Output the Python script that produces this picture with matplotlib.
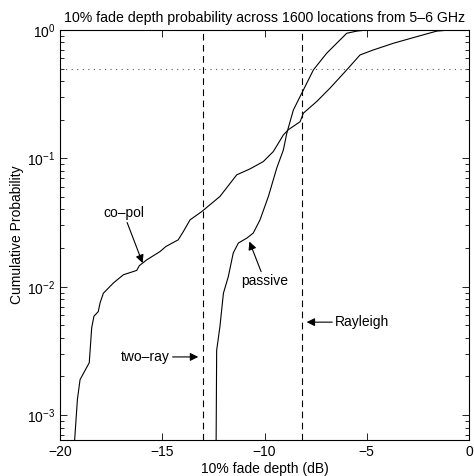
import matplotlib
matplotlib.use("Agg")
from matplotlib import pyplot as plt

plt.rcParams['font.family'] = ['Liberation Sans', 'DejaVu Sans']
plt.rcParams['mathtext.fontset'] = 'custom'
plt.rcParams['mathtext.rm'] = 'Liberation Sans'
plt.rcParams['mathtext.it'] = 'Liberation Sans:italic'
plt.rcParams['font.size'] = 10

# empirical CDF of the 10% fade depth, co-polarised antenna
copol_db = [-19.33, -19.15, -19.02, -18.57, -18.45, -18.34, -18.13, -18.04,
            -17.88, -17.39, -16.90, -16.25, -16.12, -15.76, -15.11, -14.82,
            -14.22, -13.97, -13.64, -13.07, -12.18, -11.36, -10.71, -10.06,
            -9.57, -9.08, -8.84, -8.26, -8.10, -7.45, -6.80, -5.98, -5.33,
            -4.68, -3.70, -2.56, -1.58, -0.93]
copol_p = [5e-4, 1.32e-3, 1.89e-3, 2.56e-3, 4.8e-3, 5.9e-3, 6.4e-3, 7.5e-3,
           8.9e-3, 0.0107, 0.0124, 0.0134, 0.0146, 0.0162, 0.0188, 0.0206,
           0.0232, 0.0269, 0.0332, 0.0385, 0.0505, 0.0744, 0.0828, 0.0944,
           0.113, 0.152, 0.167, 0.193, 0.225, 0.277, 0.352, 0.489, 0.639,
           0.699, 0.788, 0.887, 0.98, 1.0]

# passive antenna
passive_db = [-12.37, -12.34, -12.18, -12.01, -11.77, -11.53, -11.28, -10.87,
              -10.55, -10.22, -9.81, -9.40, -9.08, -8.91, -8.59, -8.10, -7.61,
              -6.96, -6.31, -5.98, -5.49, -5.00]
passive_p = [5e-4, 3.2e-3, 4.9e-3, 8.9e-3, 0.012, 0.0183, 0.0219, 0.0239,
             0.0262, 0.0332, 0.0505, 0.0843, 0.116, 0.157, 0.238, 0.341, 0.489,
             0.659, 0.836, 0.943, 0.98, 1.0]

tworay_db = -13.0
rayleigh_db = -8.15
median_p = 0.5

fig = plt.figure(figsize=(4.74, 4.76), dpi=100)
ax = fig.add_axes([0.1266, 0.0756, 0.8629, 0.8614])

ax.semilogy(copol_db, copol_p, color='k', lw=0.8)
ax.semilogy(passive_db, passive_p, color='k', lw=0.8)
ax.axvline(tworay_db, color='k', lw=0.8, linestyle=(0, (6, 4)))
ax.axvline(rayleigh_db, color='k', lw=0.8, linestyle=(0, (6, 4)))
ax.axhline(median_p, color='0.35', lw=0.8, linestyle=(0, (1, 4)))

ax.set_xlim(-20, 0)
ax.set_ylim(6.4e-4, 1)
ax.set_xticks([-20, -15, -10, -5, 0])
ax.tick_params(which='both', direction='in', top=True, right=True)
ax.tick_params(which='major', length=5, width=0.6)
ax.tick_params(which='minor', length=3, width=0.6)
for s in ax.spines.values():
    s.set_linewidth(0.8)

arrow = dict(arrowstyle='-|>', color='k', lw=0.8, mutation_scale=12,
             shrinkA=0, shrinkB=0)
ax.annotate('co\u2013pol', xy=(-15.96, 0.0153), xytext=(-16.9, 0.0377),
            ha='center', va='center', arrowprops=arrow)
ax.annotate('passive', xy=(-10.74, 0.0225), xytext=(-9.98, 0.011),
            ha='center', va='center', arrowprops=arrow)
ax.annotate('two\u2013ray', xy=(-13.24, 2.84e-3), xytext=(-17.02, 2.84e-3),
            ha='left', va='center', arrowprops=arrow)
ax.annotate('Rayleigh', xy=(-7.94, 5.3e-3), xytext=(-6.55, 5.3e-3),
            ha='left', va='center', arrowprops=arrow)

ax.set_title('10% fade depth probability across 1600 locations from 5\u20136 GHz',
             fontsize=10.2, pad=6)
ax.set_xlabel('10% fade depth (dB)', labelpad=2)
ax.set_ylabel('Cumulative Probability', labelpad=2)

fig.savefig('out.png', dpi=100)
